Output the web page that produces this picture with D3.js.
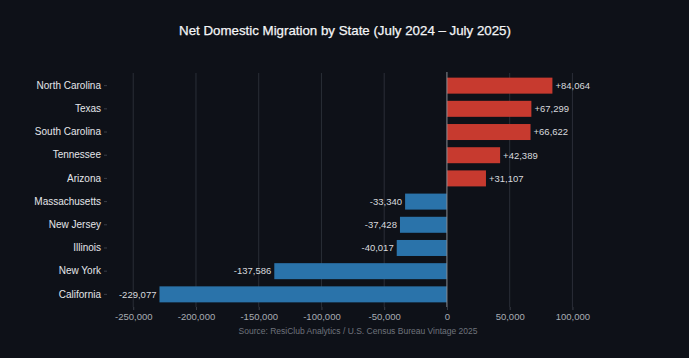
<!DOCTYPE html>
<html>
<head>
<meta charset="utf-8">
<script src="https://cdn.jsdelivr.net/npm/d3@7"></script>
<style>
  html, body { margin: 0; padding: 0; background: #0e1118; }
  svg text { font-family: "Liberation Sans", Arial, sans-serif; }
</style>
</head>
<body>
<div id="chart"></div>
<script>
// states, top to bottom
var states = ["North Carolina", "Texas", "South Carolina", "Tennessee", "Arizona",
              "Massachusetts", "New Jersey", "Illinois", "New York", "California"];
var migration = [84064, 67299, 66622, 42389, 31107, -33340, -37428, -40017, -137586, -229077];
var xTicks = [-250000, -200000, -150000, -100000, -50000, 0, 50000, 100000];

var width = 689, height = 358;
var margin = {top: 73, right: 94, bottom: 51, left: 107};

var rows = states.map(function (s, i) { return {state: s, value: migration[i]}; });

var svg = d3.select("#chart").append("svg")
    .attr("width", width)
    .attr("height", height)
    .style("background", "#0e1118");

// title
svg.append("text")
    .attr("x", 345)
    .attr("y", 35)
    .attr("text-anchor", "middle")
    .attr("fill", "#f4f5f7")
    .style("font-size", "13.3px")
    .style("stroke", "#f4f5f7")
    .style("stroke-width", "0.25px")
    .text("Net Domestic Migration by State (July 2024 \u2013 July 2025)");

var x = d3.scaleLinear()
    .domain([-270900, 118000])
    .range([margin.left, width - margin.right]);

var y = d3.scaleBand()
    .domain(states)
    .range([margin.top, height - margin.bottom])
    .paddingInner(0.31)
    .paddingOuter(0.2);

var g = svg.append("g");

// vertical grid
g.selectAll(".grid").data(xTicks.filter(function (t) { return t !== 0; }))
    .enter().append("line")
    .attr("x1", function (d) { return x(d); })
    .attr("x2", function (d) { return x(d); })
    .attr("y1", margin.top)
    .attr("y2", height - margin.bottom)
    .attr("stroke", "#2a2e37")
    .attr("stroke-width", 1);

// bars
g.selectAll(".bar").data(rows)
    .enter().append("rect")
    .attr("x", function (d) { return x(Math.min(0, d.value)); })
    .attr("y", function (d) { return y(d.state); })
    .attr("width", function (d) { return Math.abs(x(d.value) - x(0)); })
    .attr("height", y.bandwidth())
    .attr("fill", function (d) { return d.value > 0 ? "#c73a2f" : "#2a73aa"; });

// zero line
g.append("line")
    .attr("x1", x(0)).attr("x2", x(0))
    .attr("y1", margin.top - 1)
    .attr("y2", height - margin.bottom)
    .attr("stroke", "#8a8e96")
    .attr("stroke-width", 1);

// value labels
var fmt = d3.format(",");
g.selectAll(".val").data(rows)
    .enter().append("text")
    .attr("x", function (d) { return d.value > 0 ? x(d.value) + 3 : x(d.value) - 3; })
    .attr("y", function (d) { return y(d.state) + y.bandwidth() / 2; })
    .attr("dy", "0.35em")
    .attr("text-anchor", function (d) { return d.value > 0 ? "start" : "end"; })
    .attr("fill", "#d8dade")
    .style("font-size", "9.5px")
    .text(function (d) { return (d.value > 0 ? "+" : "-") + fmt(Math.abs(d.value)); });

// y axis
var yAxis = svg.append("g")
    .attr("transform", "translate(" + margin.left + ",0)")
    .call(d3.axisLeft(y).tickSize(3).tickPadding(3));
yAxis.select(".domain").remove();
yAxis.selectAll(".tick line").attr("stroke", "#3a3e47");
yAxis.selectAll(".tick text")
    .attr("fill", "#e4e6ea")
    .style("font-size", "10px");

// x axis
var xAxis = svg.append("g")
    .attr("transform", "translate(0," + (height - margin.bottom) + ")")
    .call(d3.axisBottom(x).tickValues(xTicks).tickSize(3).tickPadding(3)
        .tickFormat(function (d) { return d === 0 ? "0" : (d < 0 ? "-" : "") + fmt(Math.abs(d)); }));
xAxis.select(".domain").remove();
xAxis.selectAll(".tick line").attr("stroke", "#3a3e47");
xAxis.selectAll(".tick text")
    .attr("fill", "#a8acb3")
    .style("font-size", "9.5px");

// source
svg.append("text")
    .attr("x", 358)
    .attr("y", 334)
    .attr("text-anchor", "middle")
    .attr("fill", "#6e737c")
    .style("font-size", "8.5px")
    .text("Source: ResiClub Analytics / U.S. Census Bureau Vintage 2025");
</script>
</body>
</html>
